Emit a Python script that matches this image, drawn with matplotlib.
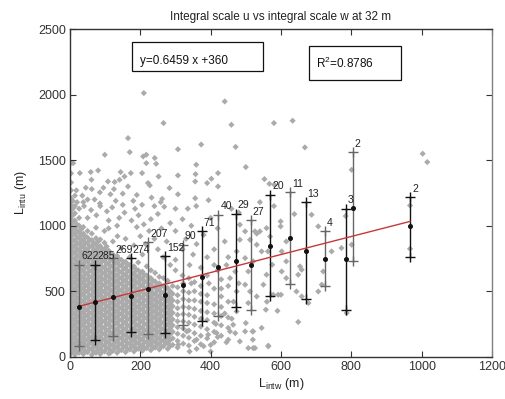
"""Integral scale u vs integral scale w at 32 m -- binned means with std bars."""
import matplotlib
matplotlib.use("Agg")
import matplotlib.pyplot as plt
from matplotlib.patches import Rectangle

# ---- binned statistics ----
BIN_X = [26, 71, 123, 173, 223, 270, 320, 374, 422, 471, 514, 569, 625, 670, 725, 784, 804, 967]
BIN_MEAN = [379, 415, 456, 466, 519, 468, 550, 608, 682, 728, 697, 847, 904, 809, 746, 746, 1135, 995]
BIN_UPPER = [702, 702, 753, 753, 873, 766, 855, 957, 1084, 1092, 1040, 1237, 1254, 1181, 957, 1130, 1562, 1219]
BIN_LOWER = [79, 130, 155, 186, 176, 181, 244, 270, 313, 379, 353, 460, 553, 440, 537, 353, 728, 761]
BIN_N = [622, 285, 269, 274, 207, 152, 90, 71, 40, 29, 27, 20, 11, 13, 4, 3, 2, 2]

# fitted line as drawn
LINE_X = [23, 967]
LINE_Y = [383, 1033]
FIT_TEXT = "y=0.6459 x +360"
R2_TEXT = "R$^2$=0.8786"

# ---- raw samples: dense cloud, column by column (x -> list of y) ----
CLOUD_COL_X = [3, 14, 26, 38, 50, 62, 74, 86, 98, 110, 122, 134, 146, 158, 170, 182,
               194, 206, 218, 230, 242, 254, 266, 278, 292, 306, 322, 338, 354, 372,
               390, 410, 430, 450]
CLOUD_COL_Y = [
    [25, 70, 115, 160, 210, 255, 300, 350, 395, 440, 490, 535, 580, 630, 675, 720, 770,
     815, 860, 905, 955, 1000, 1050, 1100, 1160, 1210, 1270, 1330, 1400, 1480],
    [15, 60, 105, 150, 200, 245, 290, 335, 385, 430, 475, 520, 570, 615, 660, 705, 750,
     800, 845, 890, 940, 985, 1040, 1095, 1150, 1230],
    [30, 75, 120, 165, 210, 260, 305, 350, 395, 445, 490, 535, 580, 625, 675, 720, 765,
     810, 860, 905, 950, 1000, 1060, 1130],
    [20, 65, 110, 155, 200, 250, 295, 340, 385, 430, 480, 525, 570, 615, 665, 710, 755,
     800, 850, 895, 940, 990, 1180],
    [35, 80, 125, 170, 215, 265, 310, 355, 400, 445, 495, 540, 585, 630, 680, 725, 770,
     815, 865, 910, 960, 1060],
    [15, 60, 105, 150, 195, 245, 290, 335, 380, 425, 475, 520, 565, 610, 660, 705, 750,
     795, 845, 890, 940, 1280],
    [30, 75, 120, 165, 210, 260, 305, 350, 395, 440, 490, 535, 580, 625, 670, 720, 765,
     810, 855, 905, 985],
    [20, 65, 110, 155, 200, 250, 295, 340, 385, 430, 480, 525, 570, 615, 660, 710, 755,
     800, 845, 895, 1150],
    [40, 85, 130, 175, 220, 270, 315, 360, 405, 450, 495, 545, 590, 635, 680, 730, 775,
     820, 870, 960],
    [25, 70, 115, 160, 205, 255, 300, 345, 390, 435, 485, 530, 575, 620, 665, 715, 760,
     810, 1040],
    [45, 90, 135, 180, 225, 275, 320, 365, 410, 455, 500, 550, 595, 640, 690, 735, 780, 880],
    [30, 75, 120, 165, 210, 260, 305, 350, 395, 440, 490, 535, 580, 625, 670, 720, 770, 1000],
    [50, 95, 140, 185, 230, 280, 325, 370, 415, 460, 505, 555, 600, 645, 695, 740, 830],
    [35, 80, 125, 170, 215, 265, 310, 355, 400, 445, 490, 540, 585, 630, 680, 725, 900],
    [55, 100, 145, 190, 235, 285, 330, 375, 420, 465, 510, 560, 605, 650, 700, 760],
    [40, 85, 130, 175, 220, 270, 315, 360, 405, 450, 495, 545, 590, 640, 690, 850],
    [60, 105, 150, 195, 240, 290, 335, 380, 425, 470, 515, 565, 610, 660, 720],
    [45, 90, 135, 180, 225, 275, 320, 365, 410, 455, 500, 550, 600, 650, 780],
    [65, 110, 155, 200, 245, 295, 340, 385, 430, 475, 520, 570, 620, 690],
    [50, 95, 140, 185, 230, 280, 325, 370, 415, 460, 505, 555, 600, 660],
    [70, 115, 160, 205, 250, 300, 345, 390, 435, 480, 530, 575, 640],
    [55, 100, 145, 190, 240, 285, 330, 375, 420, 465, 515, 560, 610],
    [80, 125, 170, 215, 260, 310, 355, 400, 445, 490, 540, 600],
    [60, 105, 150, 195, 245, 290, 335, 380, 430, 475, 525, 580],
    [90, 140, 190, 240, 285, 335, 385, 430, 480, 540],
    [70, 120, 175, 225, 270, 320, 370, 420, 470, 530],
    [100, 160, 215, 270, 325, 380, 440, 500, 560],
    [85, 145, 200, 260, 320, 375, 430, 490, 600],
    [120, 180, 245, 305, 365, 430, 500, 570],
    [95, 160, 230, 290, 350, 420, 480, 540, 680],
    [140, 210, 280, 340, 410, 470, 620],
    [110, 190, 260, 330, 400, 520, 700],
    [160, 240, 310, 380, 460, 590],
    [130, 220, 300, 420, 540, 760],
]

# second, staggered set of columns filling the gaps of the densest part
CLOUD2_COL_X = [8, 20, 32, 44, 56, 68, 80, 92, 104, 116, 128, 140, 152, 164, 176, 188,
                200, 212, 224, 236, 248, 260, 272, 285]
CLOUD2_COL_Y = [
    [45, 92, 138, 185, 232, 278, 325, 372, 418, 465, 512, 558, 605, 652, 698, 745, 792,
     838, 885, 932, 978, 1025, 1080, 1130, 1190],
    [38, 85, 128, 175, 222, 268, 312, 360, 408, 452, 498, 545, 592, 638, 682, 728, 775,
     822, 868, 915, 962, 1010],
    [52, 98, 142, 188, 235, 282, 328, 372, 420, 468, 512, 558, 602, 650, 698, 742, 788,
     835, 882, 928, 975],
    [42, 88, 132, 178, 225, 272, 318, 362, 408, 455, 502, 548, 592, 640, 688, 732, 778,
     825, 872, 918],
    [58, 102, 148, 192, 240, 288, 332, 378, 422, 470, 518, 562, 608, 655, 702, 748, 792,
     840, 888],
    [38, 82, 128, 172, 220, 268, 312, 358, 402, 450, 498, 542, 588, 635, 682, 728, 772,
     820, 868],
    [52, 98, 142, 188, 235, 282, 328, 372, 418, 465, 512, 558, 602, 650, 695, 742, 788,
     832, 880],
    [42, 88, 132, 178, 225, 272, 318, 362, 408, 455, 502, 548, 592, 640, 685, 732, 778, 822],
    [62, 108, 152, 198, 245, 292, 338, 382, 428, 475, 520, 568, 612, 658, 705, 752, 798, 842],
    [48, 92, 138, 182, 230, 278, 322, 368, 412, 460, 508, 552, 598, 642, 690, 738, 785],
    [68, 112, 158, 202, 250, 298, 342, 388, 432, 478, 525, 572, 618, 665, 712, 758],
    [52, 98, 142, 188, 235, 282, 328, 372, 418, 465, 512, 558, 602, 650, 698, 745],
    [72, 118, 162, 208, 255, 302, 348, 392, 438, 482, 528, 578, 622, 668, 718],
    [58, 102, 148, 192, 240, 288, 332, 378, 422, 468, 515, 562, 608, 655, 705],
    [78, 122, 168, 212, 260, 308, 352, 398, 442, 488, 535, 582, 628, 678],
    [62, 108, 152, 198, 245, 292, 338, 382, 428, 472, 520, 568, 615, 665],
    [82, 128, 172, 218, 265, 312, 358, 402, 448, 492, 540, 588, 635],
    [68, 112, 158, 202, 250, 298, 342, 388, 432, 478, 525, 575, 625],
    [88, 132, 178, 222, 270, 318, 362, 408, 452, 498, 545, 595],
    [72, 118, 162, 208, 255, 302, 348, 392, 438, 482, 530, 580],
    [92, 138, 182, 228, 275, 322, 368, 412, 458, 505, 552],
    [78, 122, 168, 212, 260, 308, 352, 398, 442, 490, 540],
    [102, 148, 192, 238, 285, 332, 378, 422, 470, 520],
    [82, 128, 172, 218, 265, 312, 358, 405, 452, 500],
]

# scattered samples outside the dense cloud
SPARSE_PTS = [
    (210, 2013), (440, 1949), (266, 1784), (459, 1771), (165, 1669), (373, 1620),
    (307, 1584), (471, 1602), (99, 1542), (170, 1562), (208, 1529), (217, 1542),
    (241, 1517), (245, 1473), (217, 1478), (9, 1478), (359, 1466), (28, 1402),
    (59, 1410), (80, 1422), (144, 1410), (173, 1402), (205, 1402), (252, 1376),
    (307, 1384), (357, 1394), (421, 1402), (402, 1359), (390, 1326), (356, 1338),
    (61, 1351), (108, 1338), (127, 1334), (155, 1376), (141, 1351), (222, 1326),
    (227, 1308), (283, 1288), (421, 1300), (18, 1270), (45, 1290), (85, 1255),
    (115, 1240), (150, 1245), (190, 1235), (232, 1215), (262, 1205), (180, 1190),
    (205, 1160), (307, 1240), (356, 1210), (394, 1195), (258, 1180), (300, 1130),
    (268, 1145), (359, 1150), (335, 1130), (459, 1130), (480, 1100), (20, 1180),
    (40, 1150), (85, 1170), (105, 1110), (155, 1100), (120, 1140), (60, 1120),
    (195, 1080), (230, 1050), (250, 1090), (285, 1020), (320, 1050), (345, 1000),
    (300, 960), (260, 980), (225, 960), (200, 920), (240, 900), (275, 880),
    (330, 900), (360, 860), (400, 1060), (420, 980), (380, 930), (440, 880),
    (410, 820), (390, 760), (350, 780), (320, 820), (300, 740), (285, 700),
    (340, 700), (420, 660), (445, 700), (470, 650),
    (35, 1230), (70, 1200), (95, 1290), (130, 1190), (165, 1300), (140, 1060),
    (110, 980), (175, 1040), (135, 920), (190, 990), (215, 860), (250, 820),
    (265, 760), (300, 660), (320, 620), (345, 560), (150, 1160), (75, 1080),
    (50, 1200), (125, 1280), (185, 1130), (240, 1150), (210, 1010),
    (580, 1784), (633, 1802), (668, 1598), (1003, 1550), (1016, 1486), (500, 1448),
    (553, 1356), (567, 1320), (581, 1313), (801, 1427), (599, 1033), (599, 995),
    (638, 1089), (687, 1084), (706, 995), (744, 804), (772, 830), (801, 855),
    (615, 880), (602, 804), (615, 728), (602, 651), (615, 600), (600, 473),
    (654, 689), (659, 664), (649, 626), (644, 498), (659, 460), (678, 410),
    (649, 265), (706, 498), (716, 550), (720, 651), (557, 359), (564, 79),
    (500, 257), (519, 193), (483, 117), (507, 66), (521, 66), (787, 334),
    (784, 1074), (967, 1155), (967, 824),
    (483, 1008), (498, 957), (483, 893), (474, 804), (498, 753), (512, 893),
    (526, 957), (531, 940), (540, 957), (531, 855), (545, 804), (521, 728),
    (507, 651), (498, 550), (474, 498), (512, 498), (531, 460), (474, 346),
    (507, 410), (464, 244), (498, 193),
    (559, 982), (569, 918), (563, 804), (575, 702), (559, 626), (550, 550),
    (578, 473), (592, 473),
    (400, 90), (420, 150), (445, 110), (415, 250), (440, 330), (460, 290),
    (465, 420), (430, 520), (455, 600), (480, 560), (395, 560), (380, 80),
    (360, 60), (340, 40), (400, 40), (470, 180), (520, 130), (545, 220),
    (590, 350), (560, 420), (580, 1150), (540, 1180),
    (332, 193), (360, 130), (393, 168), (417, 181), (455, 193), (526, 66),
    (564, 84), (521, 193), (308, 92), (232, 117), (275, 143), (199, 66), (114, 28),
]

BLACK = "#111111"
BAR_GRAY = "#666666"
DOT_GRAY = "#ababab"
RED = "#c8383a"


def samples():
    xs, ys = [], []
    for cols_x, cols_y in ((CLOUD_COL_X, CLOUD_COL_Y), (CLOUD2_COL_X, CLOUD2_COL_Y)):
        for cx, col in zip(cols_x, cols_y):
            xs += [cx] * len(col)
            ys += col
    xs += [p[0] for p in SPARSE_PTS]
    ys += [p[1] for p in SPARSE_PTS]
    return xs, ys


def main():
    plt.rcParams["font.family"] = ["Liberation Sans", "DejaVu Sans"]
    plt.rcParams["mathtext.fontset"] = "custom"
    plt.rcParams["mathtext.rm"] = "Liberation Sans"
    plt.rcParams["mathtext.it"] = "Liberation Sans"

    fig = plt.figure(figsize=(5.05, 3.99), dpi=100)
    ax = fig.add_axes([0.1386, 0.106, 0.8356, 0.8206])

    xs, ys = samples()
    ax.scatter(xs, ys, s=10, marker="D", color=DOT_GRAY, edgecolor="none", zorder=1)

    # std bars, alternating black / gray, "+" marks at both ends
    for i, (x, m, lo, hi) in enumerate(zip(BIN_X, BIN_MEAN, BIN_LOWER, BIN_UPPER)):
        c = BLACK if i % 2 else BAR_GRAY
        ax.plot([x, x], [lo, hi], color=c, lw=1.0, zorder=3)
        ax.plot([x, x], [lo, hi], ls="none", marker="+", ms=7, mew=1.0, color=c, zorder=3)

    ax.plot(LINE_X, LINE_Y, color=RED, lw=1.0, zorder=4)
    ax.plot(BIN_X, BIN_MEAN, ls="none", marker="o", ms=2.6, color=BLACK, zorder=5)

    for x, hi, n in zip(BIN_X, BIN_UPPER, BIN_N):
        ax.annotate(str(n), xy=(x, hi), xytext=(1.5, 2.5), textcoords="offset points",
                    ha="left", va="bottom", fontsize=7.5, color="#222222")

    # equation and R^2 boxes
    ax.add_patch(Rectangle((0.148, 0.873), 0.309, 0.089, transform=ax.transAxes,
                           fill=False, lw=0.9, ec=BLACK, zorder=6))
    ax.text(0.166, 0.902, FIT_TEXT, transform=ax.transAxes, fontsize=8.5,
            ha="left", va="center", color=BLACK)
    ax.add_patch(Rectangle((0.567, 0.845), 0.217, 0.104, transform=ax.transAxes,
                           fill=False, lw=0.9, ec=BLACK, zorder=6))
    ax.text(0.584, 0.895, R2_TEXT, transform=ax.transAxes, fontsize=8.5,
            ha="left", va="center", color=BLACK)

    ax.set_xlim(0, 1200)
    ax.set_ylim(0, 2500)
    ax.set_xticks(range(0, 1201, 200))
    ax.set_yticks(range(0, 2501, 500))
    ax.tick_params(direction="in", length=4, width=0.8, top=True, right=True,
                   labelsize=9, colors="#333333", pad=3)
    for side, sp in ax.spines.items():
        sp.set_color("#808080" if side == "right" else "#333333")
        sp.set_linewidth(1.0)

    ax.set_title("Integral scale u vs integral scale w at 32 m", fontsize=8.5,
                 color="#222222", pad=7)
    ax.set_xlabel(r"L$_{\rm intw}$ (m)", fontsize=9, color="#222222", labelpad=2)
    ax.set_ylabel(r"L$_{\rm intu}$ (m)", fontsize=9, color="#222222", labelpad=6)

    fig.savefig("out.png", dpi=100, facecolor="white")


if __name__ == "__main__":
    main()
